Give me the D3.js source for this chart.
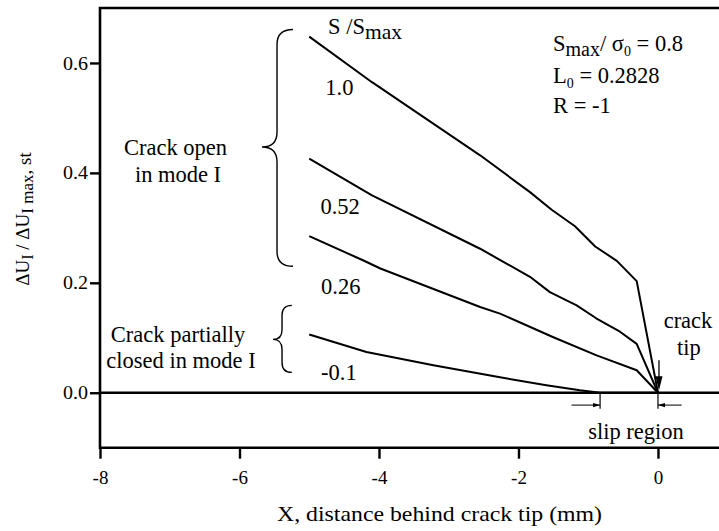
<!DOCTYPE html>
<html>
<head>
<meta charset="utf-8">
<script src="https://cdn.jsdelivr.net/npm/d3@7"></script>
<style>
  html, body { margin: 0; padding: 0; background: #fff; }
  svg text { font-family: "Liberation Serif", "Times New Roman", serif; fill: #000; }
</style>
</head>
<body>
<svg id="chart" width="719" height="531"></svg>
<script>
// Normalised mode-I opening displacement behind the crack tip, per load level S/Smax
const loadLevels = ["1.0", "0.52", "0.26", "-0.1"];
const xS10  = [-5.0, -4.10, -2.55, -1.835, -1.524, -1.19, -0.90, -0.59, -0.305, 0];
const yS10  = [0.648, 0.565, 0.432, 0.365, 0.333, 0.303, 0.266, 0.240, 0.203, 0];
const xS052 = [-5.0, -4.10, -2.55, -1.835, -1.55, -1.166, -0.88, -0.545, -0.305, 0];
const yS052 = [0.426, 0.359, 0.262, 0.211, 0.183, 0.159, 0.135, 0.111, 0.089, 0];
const xS026 = [-5.0, -4.23, -3.98, -2.55, -2.265, -1.50, -0.88, -0.305, 0];
const yS026 = [0.285, 0.241, 0.226, 0.156, 0.144, 0.101, 0.068, 0.041, 0];
const xSm01 = [-5.0, -4.18, -3.22, -2.265, -1.60, -1.12, -0.83, 0];
const ySm01 = [0.106, 0.074, 0.050, 0.028, 0.0136, 0.0045, 0, 0];
const xTicks = [-8, -6, -4, -2, 0];
const yTicks = [0.6, 0.4, 0.2, 0.0];
const slipStart = -0.83;

const series = [
  { label: loadLevels[0], xs: xS10,  ys: yS10 },
  { label: loadLevels[1], xs: xS052, ys: yS052 },
  { label: loadLevels[2], xs: xS026, ys: yS026 },
  { label: loadLevels[3], xs: xSm01, ys: ySm01 }
];

const svg = d3.select("#chart");
const plotL = 100, plotT = 8, plotB = 447.7, plotR = 719;
const fs = 22.5;

const x = d3.scaleLinear().domain([-8, 0.875]).range([plotL, plotR]);
const y = d3.scaleLinear().domain([-0.1, 0.7]).range([plotB, plotT]);

// frame: left axis, top edge, bottom axis
svg.append("path")
  .attr("d", `M${plotR},${plotT}H${plotL}V${plotB}H${plotR}`)
  .attr("fill", "none").attr("stroke", "#000").attr("stroke-width", 2.6);

// axes
const xAxis = d3.axisBottom(x).tickValues(xTicks).tickSize(11).tickPadding(12)
  .tickFormat(d => d3.format("d")(d).replace("−", "-"));
svg.append("g").attr("transform", `translate(0,${plotB})`).call(xAxis)
  .attr("font-family", null)
  .call(g => g.select(".domain").remove())
  .call(g => g.selectAll("line").attr("stroke-width", 2.4))
  .call(g => g.selectAll("text").attr("font-size", 19));

const yAxis = d3.axisLeft(y).tickValues(yTicks).tickSize(10).tickPadding(2)
  .tickFormat(d3.format(".1f"));
svg.append("g").attr("transform", `translate(${plotL},0)`).call(yAxis)
  .attr("font-family", null)
  .call(g => g.select(".domain").remove())
  .call(g => g.selectAll("line").attr("stroke-width", 2.4))
  .call(g => g.selectAll("text").attr("font-size", 19)
    .attr("textLength", 25).attr("lengthAdjust", "spacingAndGlyphs"));

// zero line
svg.append("line")
  .attr("x1", plotL).attr("x2", plotR).attr("y1", y(0)).attr("y2", y(0))
  .attr("stroke", "#000").attr("stroke-width", 2.4);

// curves
const line = d3.line().x(d => x(d[0])).y(d => y(d[1]));
svg.append("g").selectAll("path").data(series).join("path")
  .attr("d", s => line(s.xs.map((v, i) => [v, s.ys[i]])))
  .attr("fill", "none").attr("stroke", "#000").attr("stroke-width", 2)
  .attr("stroke-linejoin", "round");

// curve labels
const labelPos = [[-4.77, 0.542], [-4.84, 0.325], [-4.83, 0.179], [-4.83, 0.024]];
svg.append("g").selectAll("text").data(series).join("text")
  .attr("x", (s, i) => x(labelPos[i][0]))
  .attr("y", (s, i) => y(labelPos[i][1]))
  .attr("font-size", fs)
  .text(s => s.label);

// header of the curve labels: S /Smax
const hdr = svg.append("text").attr("x", 328).attr("y", 34).attr("font-size", fs);
hdr.append("tspan").text("S /S");
hdr.append("tspan").attr("dy", 5).attr("font-size", 21.5).text("max");

// parameter block
const p1 = svg.append("text").attr("x", 553).attr("y", 51).attr("font-size", fs);
p1.append("tspan").text("S");
p1.append("tspan").attr("dy", 5).attr("font-size", 20).text("max");
p1.append("tspan").attr("dy", -5).text("/ σ");
p1.append("tspan").attr("dy", 5).attr("font-size", 14).text("0");
p1.append("tspan").attr("dy", -5).text(" = 0.8");
const p2 = svg.append("text").attr("x", 553).attr("y", 83).attr("font-size", fs);
p2.append("tspan").text("L");
p2.append("tspan").attr("dy", 5).attr("font-size", 14).text("0");
p2.append("tspan").attr("dy", -5).text(" = 0.2828");
svg.append("text").attr("x", 553).attr("y", 113).attr("font-size", fs).text("R = -1");

// curly braces grouping the load levels
function brace(xTip, xV, xEnd, yT, yM, yB, r) {
  return `M${xEnd},${yT}Q${xV},${yT} ${xV},${yT + r}L${xV},${yM - r}` +
         `Q${xV},${yM} ${xTip},${yM}Q${xV},${yM} ${xV},${yM + r}` +
         `L${xV},${yB - r}Q${xV},${yB} ${xEnd},${yB}`;
}
svg.append("path")
  .attr("d", brace(x(-5.677), x(-5.462), x(-5.233), y(0.661), y(0.447), y(0.230), 15))
  .attr("fill", "none").attr("stroke", "#000").attr("stroke-width", 1.4);
svg.append("path")
  .attr("d", brace(x(-5.52), x(-5.39), x(-5.25), y(0.159), y(0.097), y(0.037), 10))
  .attr("fill", "none").attr("stroke", "#000").attr("stroke-width", 1.4);

// group captions
svg.append("text").attr("x", 175.5).attr("y", 155).attr("font-size", fs)
  .attr("text-anchor", "middle").text("Crack open");
svg.append("text").attr("x", 178).attr("y", 182).attr("font-size", fs)
  .attr("text-anchor", "middle").text("in mode I");
svg.append("text").attr("x", 178).attr("y", 342).attr("font-size", fs)
  .attr("text-anchor", "middle").text("Crack partially");
svg.append("text").attr("x", 181).attr("y", 368).attr("font-size", fs)
  .attr("text-anchor", "middle").text("closed in mode I");

// crack tip marker
const tipX = x(0) + 1;
svg.append("line").attr("x1", tipX).attr("x2", tipX)
  .attr("y1", y(0.059)).attr("y2", y(0.02))
  .attr("stroke", "#000").attr("stroke-width", 1.3);
svg.append("path")
  .attr("d", `M${tipX - 3.5},${y(0.03)}L${tipX + 3.5},${y(0.03)}L${tipX},${y(0.004)}Z`)
  .attr("fill", "#000");
svg.append("text").attr("x", 688).attr("y", 328).attr("font-size", fs)
  .attr("text-anchor", "middle").text("crack");
svg.append("text").attr("x", 689).attr("y", 355).attr("font-size", fs)
  .attr("text-anchor", "middle").text("tip");

// slip region dimension
const slipY = y(-0.0225);
[slipStart, 0].forEach(v => {
  svg.append("line").attr("x1", x(v)).attr("x2", x(v))
    .attr("y1", y(0)).attr("y2", y(-0.029))
    .attr("stroke", "#000").attr("stroke-width", 1.2);
});
svg.append("line").attr("x1", x(-1.24)).attr("x2", x(slipStart))
  .attr("y1", slipY).attr("y2", slipY).attr("stroke", "#000").attr("stroke-width", 1);
svg.append("line").attr("x1", x(0)).attr("x2", x(0.34))
  .attr("y1", slipY).attr("y2", slipY).attr("stroke", "#000").attr("stroke-width", 1);
svg.append("path")
  .attr("d", `M${x(slipStart)},${slipY}l-7,-2.2v4.4Z`).attr("fill", "#000");
svg.append("path")
  .attr("d", `M${x(0)},${slipY}l7,-2.2v4.4Z`).attr("fill", "#000");
svg.append("text").attr("x", 636).attr("y", 439).attr("font-size", fs)
  .attr("text-anchor", "middle").text("slip region");

// axis titles
svg.append("text").attr("x", 439.5).attr("y", 521).attr("font-size", 21)
  .attr("text-anchor", "middle")
  .attr("textLength", 325).attr("lengthAdjust", "spacingAndGlyphs")
  .text("X, distance behind crack tip (mm)");

const yt = svg.append("text").attr("transform", "translate(29,219) rotate(-90)")
  .attr("font-size", 19).attr("text-anchor", "middle");
yt.append("tspan").text("ΔU");
yt.append("tspan").attr("dy", 4).attr("font-size", 16).text("I");
yt.append("tspan").attr("dy", -4).text(" / ΔU");
yt.append("tspan").attr("dy", 4).attr("font-size", 17).text("I max");
yt.append("tspan").attr("dy", -2).text(", st");
</script>
</body>
</html>
